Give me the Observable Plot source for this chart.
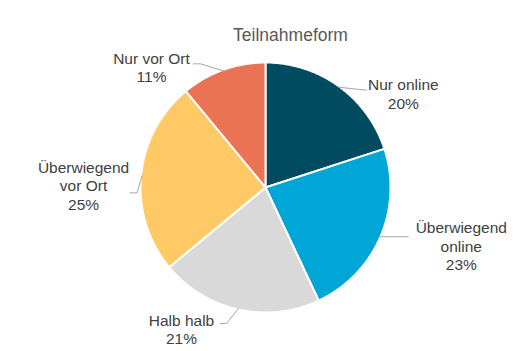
<!DOCTYPE html>
<html>
<head>
<meta charset="utf-8">
<script src="https://cdn.jsdelivr.net/npm/d3@7"></script>
<script src="https://cdn.jsdelivr.net/npm/@observablehq/plot@0.6"></script>
<style>
  html, body { margin: 0; padding: 0; background: #fff; }
</style>
</head>
<body>
<div id="chart"></div>
<script>
// ---- data ----
const title = "Teilnahmeform";
const categories = ["Nur online", "Überwiegend online", "Halb halb", "Überwiegend vor Ort", "Nur vor Ort"];
const labelText = ["Nur online", "Überwiegend\nonline", "Halb halb", "Überwiegend\nvor Ort", "Nur vor Ort"];
const shares = [20, 23, 21, 25, 11];
const colors = ["#004B5F", "#00A6D6", "#D9D9D9", "#FFCA66", "#E97353"];

// ---- layout (pixel offsets relative to arc anchor) ----
const radius = 125;
const labelOffset = [[65, 6.5], [82, 9], [-57, 20.5], [-58.5, 9.5], [-72, -4]];
const leaderPts = [
  [[0, 0], [28, 3]],
  [[0, 0], [29, 0]],
  [[0, 0], [-12, 15], [-18, 15]],
  [[0, 0], [-5, 17], [-12, 17]],
  [[0, 0], [-23, -7], [-30, -7]]
];

const pie = d3.pie().sort(null).value(d => d.v)(categories.map((c, i) => ({c, v: shares[i], i})));

const slicePts = [];
const labels = [];
const leaders = [];
pie.forEach(p => {
  const c = p.data.c, i = p.data.i;
  slicePts.push({cat: c, x: 0, y: 0});
  const n = Math.max(2, Math.ceil((p.endAngle - p.startAngle) / (Math.PI / 360)));
  for (let k = 0; k <= n; k++) {
    const a = p.startAngle + (p.endAngle - p.startAngle) * k / n;
    slicePts.push({cat: c, x: radius * Math.sin(a), y: radius * Math.cos(a)});
  }
  slicePts.push({cat: c, x: 0, y: 0});
  const mid = (p.startAngle + p.endAngle) / 2;
  const ax = (radius - 1) * Math.sin(mid), ay = (radius - 1) * Math.cos(mid);
  labels.push({cat: c, x: ax + labelOffset[i][0], y: ay - labelOffset[i][1], text: `${labelText[i]}\n${shares[i]}%`});
  leaderPts[i].forEach(([dx, dy]) => leaders.push({cat: c, x: ax + dx, y: ay - dy}));
});

const chart = Plot.plot({
  width: 530,
  height: 351,
  margin: 0,
  x: {domain: [-265, 265], axis: null},
  y: {domain: [-164, 187], axis: null},
  color: {domain: categories, range: colors},
  style: {fontFamily: "'Liberation Sans', Arial, sans-serif", background: "#fff"},
  marks: [
    Plot.line(slicePts, {x: "x", y: "y", z: "cat", fill: "cat", stroke: "white", strokeWidth: 2, strokeLinejoin: "round", curve: "linear"}),
    Plot.line(leaders, {x: "x", y: "y", z: "cat", stroke: "#A6A6A6", strokeWidth: 1, curve: "linear"}),
    Plot.text(labels, {x: "x", y: "y", text: "text", fill: "#404040", fontSize: 15.5, lineHeight: 1.19, textAnchor: "middle"}),
    Plot.text([title], {frameAnchor: "top", dx: 25, dy: 35, text: d => d, fill: "#595959", fontSize: 17.5, lineAnchor: "middle"})
  ]
});
document.getElementById("chart").appendChild(chart);
</script>
</body>
</html>
